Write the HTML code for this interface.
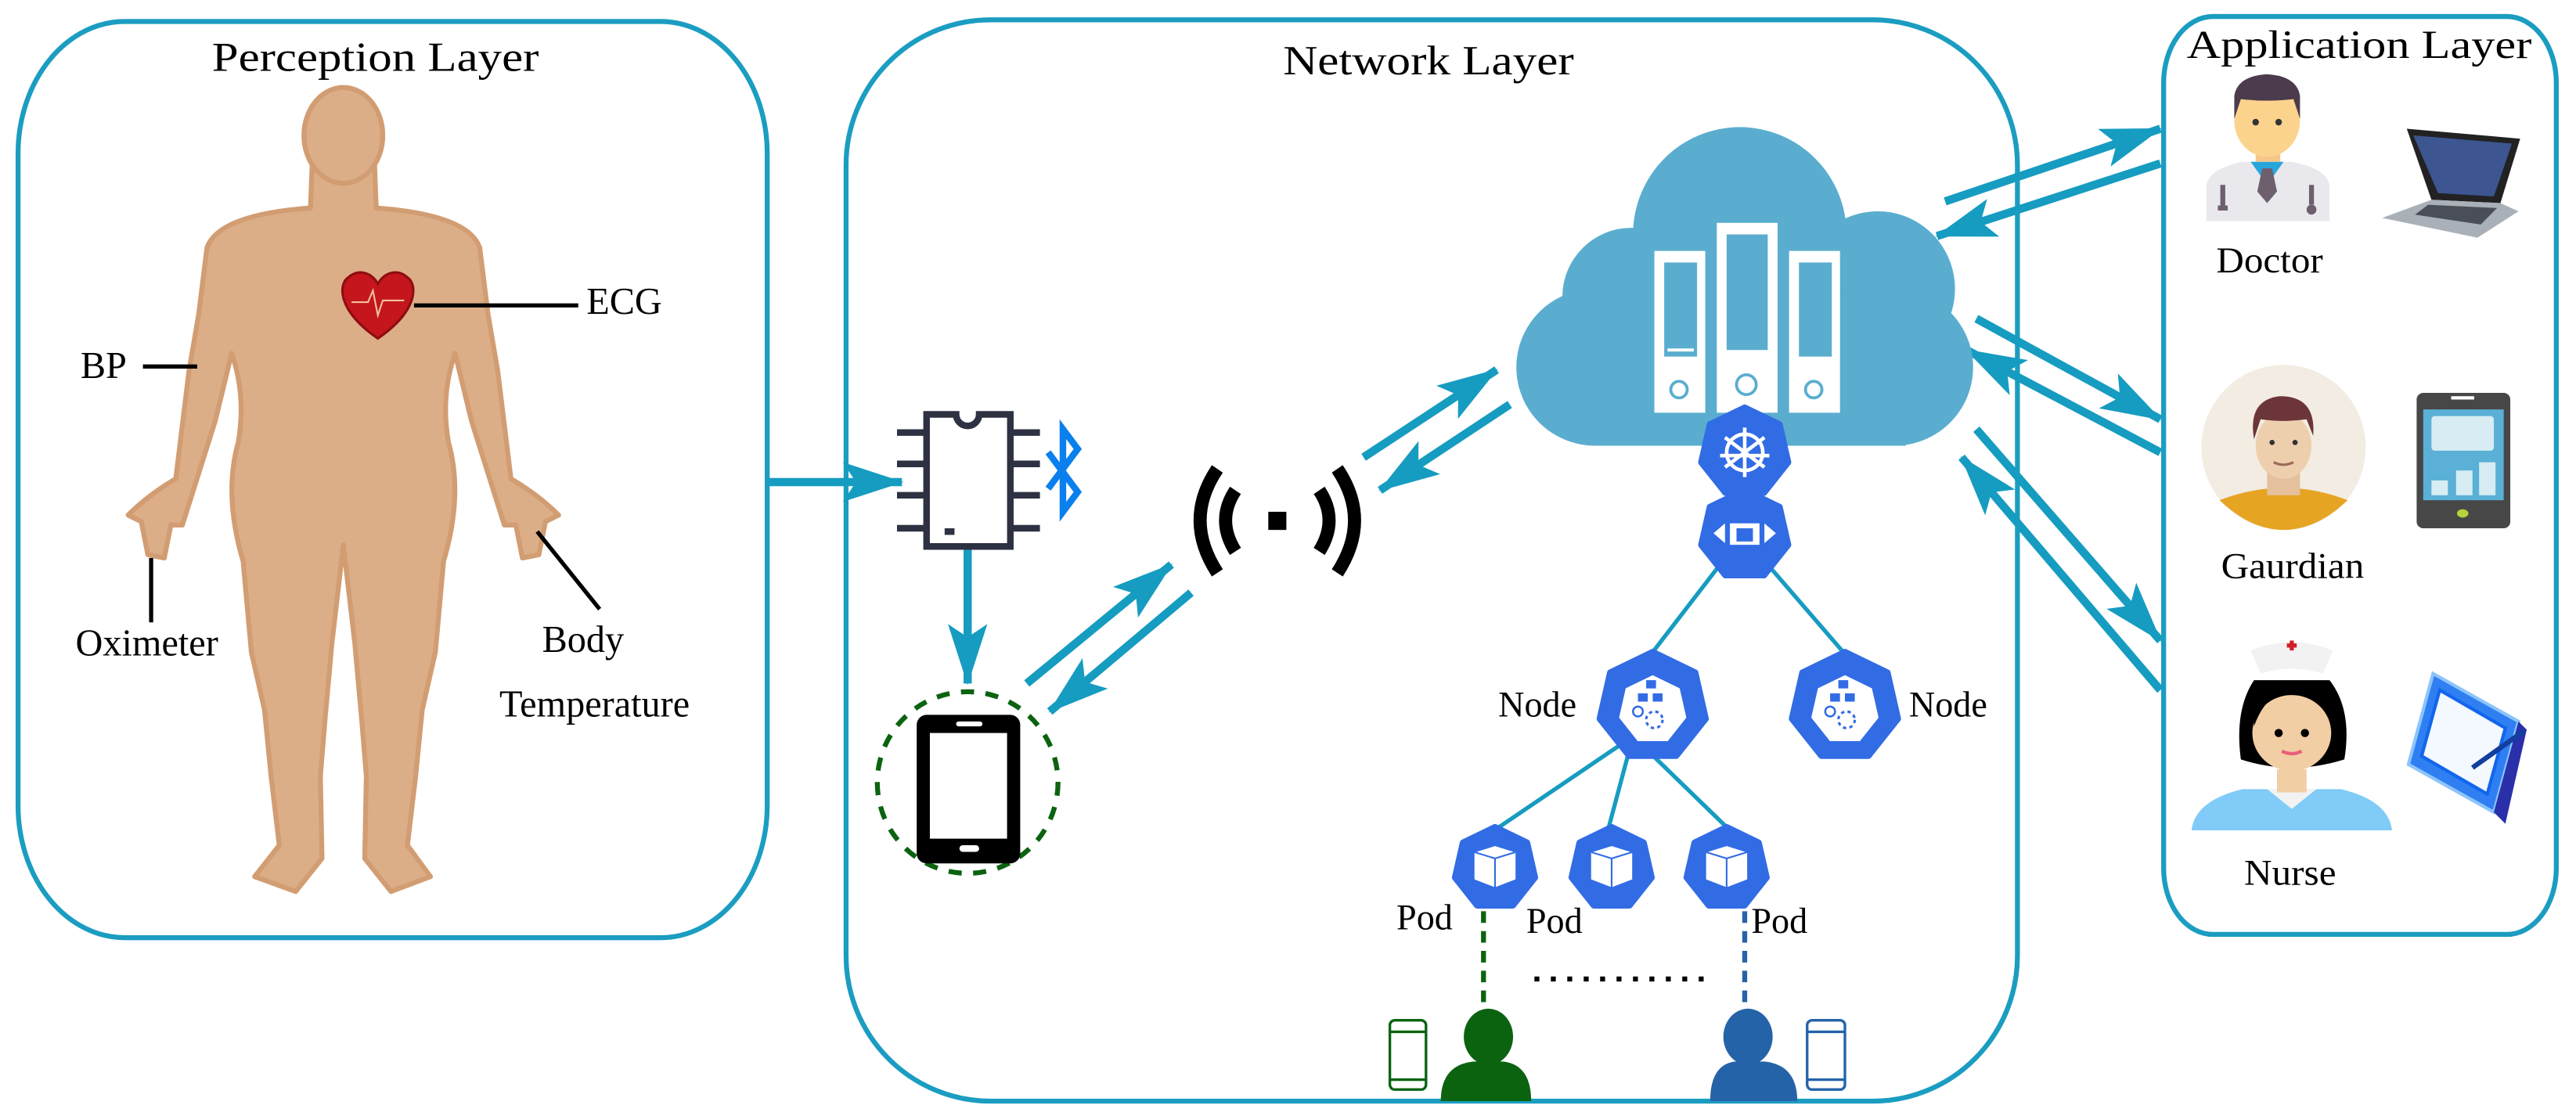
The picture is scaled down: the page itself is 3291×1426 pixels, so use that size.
<!DOCTYPE html>
<html><head><meta charset="utf-8"><style>
html,body{margin:0;padding:0;background:#fff;}
svg{display:block;}
text{font-family:"Liberation Serif",serif;fill:#000;}
</style></head><body>
<svg width="3291" height="1426" viewBox="0 0 1568 676" preserveAspectRatio="none" xmlns="http://www.w3.org/2000/svg">
<defs>
<marker id="ah" markerUnits="userSpaceOnUse" markerWidth="40" markerHeight="26" refX="36" refY="12" orient="auto">
<path d="M0,0 L37,12 L0,24 L8,12 Z" fill="#169cc0"/>
</marker>
<polygon id="hept" points="0,-1 0.782,-0.623 0.975,0.223 0.434,0.901 -0.434,0.901 -0.975,0.223 -0.782,-0.623"/>
</defs>

<g fill="none" stroke="#1b9dc1" stroke-width="3">
<rect x="11" y="13" width="456" height="555" rx="65" ry="80"/>
<rect x="515" y="12" width="713" height="655" rx="88" ry="88"/>
<rect x="1317" y="10" width="239" height="556" rx="30" ry="40"/>
</g>
<text x="129" y="43" font-size="25" textLength="199" lengthAdjust="spacingAndGlyphs">Perception Layer</text>
<text x="781" y="45" font-size="25" textLength="177" lengthAdjust="spacingAndGlyphs">Network Layer</text>
<text x="1331" y="35" font-size="24" textLength="210" lengthAdjust="spacingAndGlyphs">Application Layer</text>

<g fill="#dcae87" stroke="#d29d72" stroke-width="3" stroke-linejoin="round">
<path d="M190,100 L228,100 L229,126 Q285,130 292,150 L297,190 L303,225 L311,290 Q328,300 340,312 L332,316 L328,336 L318,338 L314,318 L307,318 L300,296 L287,255 L277,214 Q268,240 273,268 Q282,300 270,340 L265,395 L257,430 L253,470 L248,512 L262,531 L238,540 L222,520 L223,470 L220,434 L216,390 L209,330 L202,390 L198,434 L195,470 L196,520 L180,540 L155,531 L170,512 L165,470 L161,430 L153,395 L148,340 Q136,300 145,268 Q150,240 141,214 L131,255 L118,296 L111,318 L104,318 L100,338 L90,336 L86,316 L78,312 Q90,300 107,290 L115,225 L121,190 L126,150 Q133,130 189,126 Z"/>
<ellipse cx="209" cy="82" rx="24" ry="29"/>
</g>
<path d="M230,205 C205,188 206,172 212,168 C219,162 227,166 230,172 C233,166 241,162 248,168 C254,172 255,188 230,205 Z" fill="#c4161c" stroke="#8e0e12" stroke-width="1.5"/>
<path d="M214,183 L224,183 L227,176 L230,191 L233,182 L246,182" fill="none" stroke="#f3c0a0" stroke-width="1"/>
<g stroke="#000" stroke-width="2.5" fill="none">
<line x1="252" y1="185" x2="352" y2="185"/>
<line x1="87" y1="222" x2="120" y2="222"/>
<line x1="92" y1="338" x2="92" y2="377"/>
<line x1="327" y1="322" x2="365" y2="369"/>
</g>
<g font-size="23">
<text x="357" y="190">ECG</text>
<text x="49" y="229">BP</text>
<text x="46" y="397">Oximeter</text>
<text x="330" y="395">Body</text>
<text x="304" y="434">Temperature</text>
</g>

<g stroke="#169cc0" stroke-width="5" fill="none" marker-end="url(#ah)">
<line x1="467" y1="292" x2="549" y2="292"/>
<line x1="589" y1="333" x2="589" y2="414"/>
<line x1="625" y1="414" x2="713" y2="342"/>
<line x1="725" y1="359" x2="639" y2="431"/>
<line x1="830" y1="277" x2="911" y2="224"/>
<line x1="919" y1="245" x2="840" y2="297"/>
<line x1="1184" y1="122" x2="1315" y2="78"/>
<line x1="1315" y1="99" x2="1179" y2="143"/>
<line x1="1203" y1="193" x2="1315" y2="254"/>
<line x1="1315" y1="274" x2="1197" y2="212"/>
<line x1="1203" y1="260" x2="1315" y2="388"/>
<line x1="1315" y1="418" x2="1194" y2="277"/>
</g>

<g stroke="#2d3142" stroke-width="4" fill="none">
<path d="M564,251 L582,251 A7,7 0 0 0 596,251 L615,251 L615,331 L564,331 Z" fill="#fff"/>
<line x1="546" y1="262" x2="564" y2="262"/><line x1="546" y1="281" x2="564" y2="281"/>
<line x1="546" y1="300" x2="564" y2="300"/><line x1="546" y1="320" x2="564" y2="320"/>
<line x1="615" y1="262" x2="633" y2="262"/><line x1="615" y1="281" x2="633" y2="281"/>
<line x1="615" y1="300" x2="633" y2="300"/><line x1="615" y1="320" x2="633" y2="320"/>
</g>
<rect x="575" y="320" width="6" height="4" fill="#2d3142"/>
<path d="M638,274 L656,298 L647,310 L647,260 L656,272 L638,296" fill="none" stroke="#0a7fee" stroke-width="4"/>

<ellipse cx="589" cy="474" rx="55" ry="55" fill="none" stroke="#0b6310" stroke-width="3" stroke-dasharray="8,7"/>
<rect x="558" y="433" width="63" height="90" rx="6" fill="#000"/>
<rect x="566" y="444" width="47" height="64" fill="#fff"/>
<rect x="582" y="437" width="16" height="3" rx="1.5" fill="#fff"/>
<rect x="584" y="512" width="12" height="4" rx="2" fill="#fff"/>

<g fill="none" stroke="#000" stroke-width="8">
<path d="M752,297 Q740,315 752,334"/>
<path d="M803,297 Q815,315 803,334"/>
<path d="M741,284 Q720,315 741,347"/>
<path d="M814,284 Q835,315 814,347"/>
</g>
<rect x="772" y="310" width="11" height="11" fill="#000"/>

<g fill="#5aadcf">
<circle cx="1059" cy="142" r="65"/>
<circle cx="993" cy="180" r="42"/>
<circle cx="1143" cy="175" r="47"/>
<rect x="923" y="175" width="278" height="95" rx="48"/>
<rect x="970" y="180" width="190" height="90"/>
</g>
<g fill="#fff">
<rect x="1007" y="152" width="31" height="98"/>
<rect x="1045" y="135" width="37" height="115"/>
<rect x="1089" y="152" width="31" height="98"/>
</g>
<g fill="#5aadcf">
<rect x="1013" y="159" width="20" height="57"/>
<rect x="1051" y="142" width="25" height="70"/>
<rect x="1095" y="159" width="20" height="57"/>
</g>
<g fill="none" stroke="#5aadcf" stroke-width="1.8">
<line x1="1015" y1="212" x2="1031" y2="212" stroke="#fff"/>
<circle cx="1022" cy="236" r="5"/><circle cx="1063" cy="233" r="6"/><circle cx="1104" cy="236" r="5"/>
</g>

<g stroke="#169cc0" stroke-width="2.5">
<line x1="1047" y1="342" x2="1006" y2="395"/>
<line x1="1076" y1="342" x2="1122" y2="395"/>
<line x1="994" y1="446" x2="911" y2="502"/>
<line x1="994" y1="446" x2="979" y2="502"/>
<line x1="994" y1="446" x2="1052" y2="502"/>
</g>
<g fill="#326ce5" stroke="#326ce5" stroke-linejoin="round">
<g transform="translate(1062,274) scale(27)"><use href="#hept" stroke-width="0.15"/></g>
<g transform="translate(1062,324) scale(27)"><use href="#hept" stroke-width="0.15"/></g>
<g transform="translate(1006,428) scale(33)"><use href="#hept" stroke-width="0.12"/></g>
<g transform="translate(1123,428) scale(33)"><use href="#hept" stroke-width="0.12"/></g>
<g transform="translate(910,526) scale(25)"><use href="#hept" stroke-width="0.15"/></g>
<g transform="translate(981,526) scale(25)"><use href="#hept" stroke-width="0.15"/></g>
<g transform="translate(1051,526) scale(25)"><use href="#hept" stroke-width="0.15"/></g>
</g>
<g stroke="#fff" fill="none" stroke-width="2.2">
<circle cx="1062" cy="274" r="11"/>
<line x1="1062" y1="259" x2="1062" y2="289"/>
<line x1="1050" y1="265" x2="1074" y2="283"/>
<line x1="1074" y1="265" x2="1050" y2="283"/>
<line x1="1047" y1="276" x2="1077" y2="276"/>
</g>
<g fill="#fff"><rect x="1053" y="317" width="18" height="13"/>
<path d="M1043,323 L1050,317 L1050,329 Z"/><path d="M1081,323 L1074,317 L1074,329 Z"/></g>
<rect x="1057" y="320" width="10" height="8" fill="#326ce5"/>
<g fill="#fff">
<g transform="translate(1006,430) scale(21)"><use href="#hept"/></g>
<g transform="translate(1123,430) scale(21)"><use href="#hept"/></g>
</g>
<g fill="#326ce5">
<rect x="1002" y="412" width="6" height="5"/><rect x="997" y="420" width="6" height="5"/><rect x="1006" y="420" width="6" height="5"/>
<circle cx="997" cy="431" r="3" fill="none" stroke="#326ce5" stroke-width="1.2"/><circle cx="1007" cy="436" r="5" fill="none" stroke="#326ce5" stroke-width="1.5" stroke-dasharray="2,2"/>
<rect x="1119" y="412" width="6" height="5"/><rect x="1114" y="420" width="6" height="5"/><rect x="1123" y="420" width="6" height="5"/>
<circle cx="1114" cy="431" r="3" fill="none" stroke="#326ce5" stroke-width="1.2"/><circle cx="1124" cy="436" r="5" fill="none" stroke="#326ce5" stroke-width="1.5" stroke-dasharray="2,2"/>
</g>
<g fill="#fff" stroke="#326ce5" stroke-width="1">
<path d="M897,516 L910,512 L923,516 L923,533 L910,538 L897,533 Z"/><path d="M897,516 L910,520 L923,516 M910,520 L910,538" fill="none"/>
<path d="M968,516 L981,512 L994,516 L994,533 L981,538 L968,533 Z"/><path d="M968,516 L981,520 L994,516 M981,520 L981,538" fill="none"/>
<path d="M1038,516 L1051,512 L1064,516 L1064,533 L1051,538 L1038,533 Z"/><path d="M1038,516 L1051,520 L1064,516 M1051,520 L1051,538" fill="none"/>
</g>
<g font-size="22">
<text x="912" y="434">Node</text>
<text x="1162" y="434">Node</text>
<text x="850" y="563">Pod</text>
<text x="929" y="565">Pod</text>
<text x="1066" y="565">Pod</text>
</g>
<line x1="903" y1="552" x2="903" y2="612" stroke="#0b6310" stroke-width="3" stroke-dasharray="7,5"/>
<line x1="1062" y1="552" x2="1062" y2="612" stroke="#2563a8" stroke-width="3" stroke-dasharray="7,5"/>
<line x1="934" y1="593" x2="1040" y2="593" stroke="#000" stroke-width="3" stroke-dasharray="3,7"/>
<g fill="#0b6310"><ellipse cx="906" cy="628" rx="15" ry="17"/><path d="M877,667 Q877,645 897,643 L915,643 Q932,645 932,667 Z"/></g>
<g fill="#2563a8"><ellipse cx="1064" cy="628" rx="15" ry="17"/><path d="M1041,667 Q1041,645 1056,643 L1074,643 Q1094,645 1094,667 Z"/></g>
<g fill="none" stroke-width="1.6">
<rect x="846" y="618" width="22" height="42" rx="3" stroke="#0b6310"/><line x1="846" y1="625" x2="868" y2="625" stroke="#0b6310"/><line x1="846" y1="654" x2="868" y2="654" stroke="#0b6310"/>
<rect x="1100" y="618" width="23" height="42" rx="3" stroke="#2563a8"/><line x1="1100" y1="625" x2="1123" y2="625" stroke="#2563a8"/><line x1="1100" y1="654" x2="1123" y2="654" stroke="#2563a8"/>
</g>

<path d="M1343,134 L1343,112 Q1345,102 1365,98 L1395,98 Q1416,102 1418,112 L1418,134 Z" fill="#e9e8ed"/>
<path d="M1370,98 L1380,112 L1390,98 Z" fill="#27a5dd"/>
<path d="M1377,102 L1383,102 L1386,116 L1380,123 L1374,116 Z" fill="#6d5f6e"/>
<rect x="1373" y="86" width="15" height="12" fill="#f5c78a"/>
<ellipse cx="1380" cy="73" rx="20" ry="22" fill="#fbd38d"/>
<path d="M1360,72 L1360,58 Q1362,46 1380,45 Q1398,46 1400,58 L1400,72 L1396,60 Q1380,62 1364,60 Z" fill="#4b3b4c"/>
<circle cx="1373" cy="74" r="2" fill="#333"/><circle cx="1387" cy="74" r="2" fill="#333"/>
<path d="M1353,112 L1353,126 M1350,126 L1356,126" stroke="#6d5f6e" stroke-width="3" fill="none"/>
<path d="M1407,112 L1407,124" stroke="#6d5f6e" stroke-width="3"/><circle cx="1407" cy="127" r="3" fill="#6d5f6e"/>
<text x="1349" y="165" font-size="22" textLength="65" lengthAdjust="spacingAndGlyphs">Doctor</text>
<path d="M1465,78 L1534,84 L1522,123 L1480,121 Z" fill="#222"/>
<path d="M1469,82 L1529,87 L1518,119 L1484,117 Z" fill="#3d5590"/>
<path d="M1480,121 L1522,123 L1533,128 L1508,144 L1450,132 Z" fill="#a9b0b8"/>
<path d="M1478,124 L1520,126 L1510,136 L1470,130 Z" fill="#4a4f57"/>
<ellipse cx="1390" cy="271" rx="50" ry="50" fill="#f3ece2"/>
<path d="M1351,303 Q1390,288 1429,303 Q1410,321 1390,321 Q1370,321 1351,303 Z" fill="#e6a423"/>
<rect x="1380" y="284" width="20" height="16" fill="#e4c09d"/>
<ellipse cx="1390" cy="270" rx="17" ry="20" fill="#eecfad"/>
<path d="M1372,266 Q1368,242 1388,240 Q1410,240 1408,264 L1404,254 Q1390,256 1376,254 Z" fill="#6b3539"/>
<circle cx="1383" cy="268" r="1.6" fill="#333"/><circle cx="1397" cy="268" r="1.6" fill="#333"/>
<path d="M1384,280 Q1390,283 1396,280" stroke="#9a6a5a" stroke-width="1.5" fill="none"/>
<text x="1352" y="350" font-size="22" textLength="87" lengthAdjust="spacingAndGlyphs">Gaurdian</text>
<rect x="1471" y="238" width="57" height="82" rx="4" fill="#474747"/>
<rect x="1475" y="248" width="49" height="55" fill="#5ab0d6"/>
<rect x="1480" y="252" width="38" height="21" rx="2" fill="#d7ecf3"/>
<rect x="1480" y="291" width="10" height="9" fill="#d7ecf3"/><rect x="1495" y="285" width="10" height="15" fill="#d7ecf3"/><rect x="1509" y="280" width="10" height="20" fill="#d7ecf3"/>
<ellipse cx="1499" cy="311" rx="3.5" ry="2.5" fill="#b5d33a"/>
<rect x="1492" y="240" width="14" height="2" fill="#fff"/>
<path d="M1334,503 Q1336,485 1365,478 L1425,478 Q1454,485 1456,503 Z" fill="#80cbf7"/>
<path d="M1380,478 L1395,490 L1410,478 Z" fill="#f2f2f2"/>
<rect x="1386" y="466" width="18" height="14" fill="#f2cea4"/>
<path d="M1364,460 Q1360,430 1372,412 L1418,412 Q1432,430 1427,460 Q1395,470 1364,460 Z" fill="#000"/>
<ellipse cx="1395" cy="444" rx="24" ry="23" fill="#f2cea4"/>
<path d="M1372,440 Q1380,418 1395,420 Q1412,418 1420,440 L1420,420 L1372,420 Z" fill="#000"/>
<path d="M1370,394 Q1395,384 1420,394 L1414,408 Q1395,402 1376,408 Z" fill="#f2f2f2"/>
<path d="M1392,391 h6 M1395,388 v6" stroke="#d0202a" stroke-width="2.5"/>
<circle cx="1387" cy="444" r="2.5" fill="#000"/><circle cx="1403" cy="444" r="2.5" fill="#000"/>
<path d="M1389,455 Q1395,458 1401,455" stroke="#e8607a" stroke-width="2" fill="none"/>
<text x="1366" y="536" font-size="22" textLength="56" lengthAdjust="spacingAndGlyphs">Nurse</text>
<path d="M1481,408 L1533,437 L1518,492 L1466,463 Z" fill="#2f7ff2" stroke="#8cc4fb" stroke-width="2"/>
<path d="M1485,418 L1525,441 L1514,481 L1474,458 Z" fill="#f4f8ff" stroke="#1166ee" stroke-width="2"/>
<path d="M1533,437 L1538,442 L1525,499 L1518,492 Z" fill="#2a2faa"/>
<line x1="1505" y1="465" x2="1536" y2="443" stroke="#123f9e" stroke-width="3"/>
</svg>
</body></html>
